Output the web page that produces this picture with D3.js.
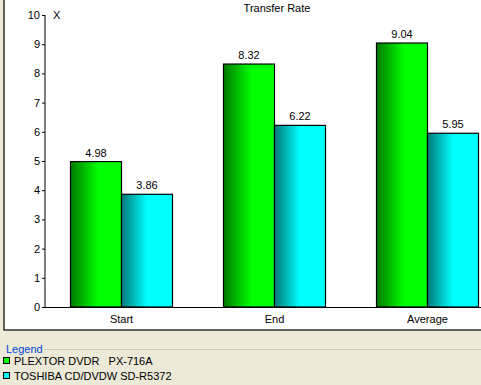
<!DOCTYPE html>
<html>
<head>
<meta charset="utf-8">
<script src="https://cdn.jsdelivr.net/npm/d3@7"></script>
<style>
  body{margin:0;background:#ece9d8;}
  svg{display:block;font-family:"Liberation Sans",Arial,sans-serif;}
</style>
</head>
<body>
<svg id="chart" width="481" height="385"></svg>
<script>
// data
var categories = ["Start","End","Average"];
var seriesNames = ["PLEXTOR DVDR   PX-716A","TOSHIBA CD/DVDW SD-R5372"];
var plextor = [4.98,8.32,9.04];
var toshiba = [3.86,6.22,5.95];
var yTicks = [0,1,2,3,4,5,6,7,8,9,10];

var svg = d3.select("#chart");

// gradients
var defs = svg.append("defs");
var grads = [
  {id:"gGreen",stops:[["0%","#007a00"],["55%","#00ff00"],["100%","#00ff00"]]},
  {id:"gCyan",stops:[["0%","#007878"],["50%","#00ffff"],["100%","#00ffff"]]}
];
grads.forEach(function(g){
  var lg = defs.append("linearGradient").attr("id",g.id)
    .attr("x1","0%").attr("x2","100%").attr("y1","0%").attr("y2","0%");
  g.stops.forEach(function(s){
    lg.append("stop").attr("offset",s[0]).attr("stop-color",s[1]);
  });
});

// white chart panel
svg.append("rect").attr("x",4).attr("y",-2).attr("width",480).attr("height",332)
  .attr("fill","#fff").attr("stroke","#000").attr("stroke-width",1.2);

var x = d3.scaleBand().domain(categories).range([45,504])
  .paddingInner(1/3).paddingOuter(1/6);
var xs = d3.scaleBand().domain([0,1]).range([0,x.bandwidth()]);
var y = d3.scaleLinear().domain([0,10]).range([307,15]);

// y axis
var yAxis = svg.append("g").attr("transform","translate(45,0)")
  .call(d3.axisLeft(y).tickValues(yTicks).tickSize(3).tickPadding(2).tickFormat(d3.format("d")));
yAxis.select(".domain").attr("d","M0,"+y(10)+"V"+y(0)).attr("stroke","#000");
yAxis.selectAll("text").attr("font-size",11).attr("fill","#000");
yAxis.selectAll("line").attr("stroke","#000");

svg.append("text").attr("x",53).attr("y",19).attr("font-size",11).text("X");

// x axis line
svg.append("line").attr("x1",45).attr("x2",481).attr("y1",307.5).attr("y2",307.5)
  .attr("stroke","#000");

var xAxis = svg.append("g").attr("transform","translate(0,307)")
  .call(d3.axisBottom(x).tickSize(0).tickPadding(8));
xAxis.select(".domain").remove();
xAxis.selectAll("text").attr("font-size",11).attr("fill","#000");

// title
svg.append("text").attr("x",277).attr("y",12).attr("text-anchor","middle")
  .attr("font-size",11).text("Transfer Rate");

// bars
var series = [plextor,toshiba];
var fills = ["url(#gGreen)","url(#gCyan)"];
series.forEach(function(vals,si){
  var g = svg.append("g").attr("class","series"+si);
  g.selectAll("rect").data(vals).enter().append("rect")
    .attr("x",function(d,i){return x(categories[i])+xs(si);})
    .attr("y",function(d){return y(d);})
    .attr("width",xs.bandwidth())
    .attr("height",function(d){return y(0)-y(d);})
    .attr("fill",fills[si])
    .attr("stroke","#000").attr("stroke-width",1.2);
  g.selectAll("text").data(vals).enter().append("text")
    .attr("x",function(d,i){return x(categories[i])+xs(si)+xs.bandwidth()/2;})
    .attr("y",function(d){return y(d)-5;})
    .attr("text-anchor","middle").attr("font-size",11)
    .text(function(d){return d3.format(".2f")(d);});
});

// legend
svg.append("line").attr("x1",44).attr("x2",481).attr("y1",349.5).attr("y2",349.5)
  .attr("stroke","#d0cdbf");
svg.append("text").attr("x",6).attr("y",353).attr("font-size",11)
  .attr("fill","#0046d5").text("Legend");
var legendColors = ["#00ff00","#00ffff"];
var lg = svg.selectAll(".leg").data(seriesNames).enter().append("g")
  .attr("class","leg")
  .attr("transform",function(d,i){return "translate(3,"+(357+i*15)+")";});
lg.append("rect").attr("x",0.5).attr("y",0.5).attr("width",6).attr("height",6)
  .attr("fill",function(d,i){return legendColors[i];}).attr("stroke","#000");
lg.append("text").attr("x",11).attr("y",8).attr("font-size",11)
  .attr("xml:space","preserve").style("white-space","pre").text(function(d){return d;});
</script>
</body>
</html>
